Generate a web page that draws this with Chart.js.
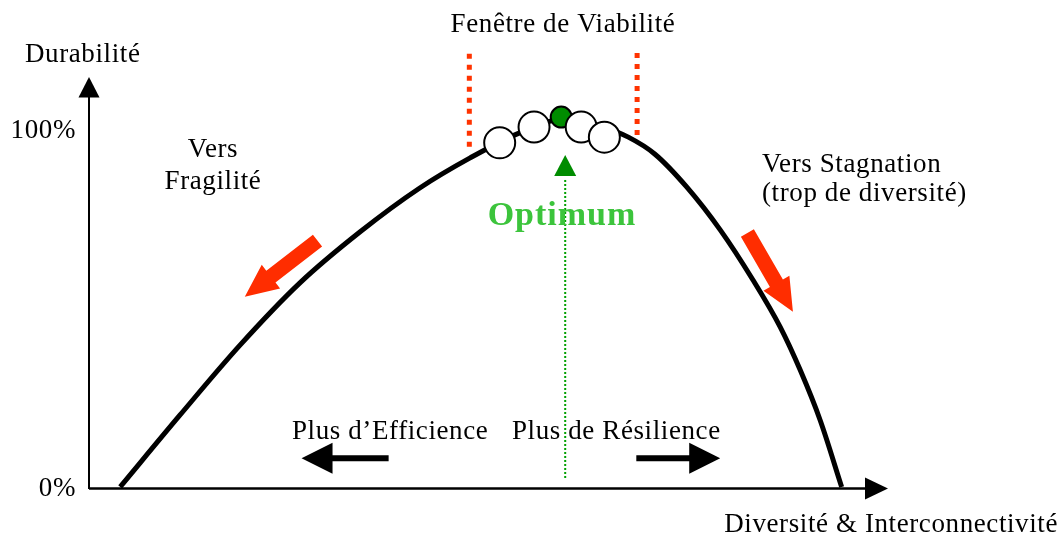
<!DOCTYPE html>
<html><head><meta charset="utf-8">
<script src="https://cdn.jsdelivr.net/npm/chart.js@4/dist/chart.umd.min.js"></script>
<style>html,body{margin:0;padding:0;background:#fff;}#wrap{width:1064px;height:537px;}</style>
</head><body><div id="wrap"><canvas id="c" width="1064" height="537"></canvas></div>
<script>
// Curve: durability (%) vs diversity & interconnectivity (% of axis length)
const curveX = [3.9, 11.4, 18.9, 26.4, 33.9, 41.4, 47.7, 53.9, 59.6, 64.0, 67.5, 70.8, 74.8, 79.0, 83.1, 86.5, 89.0, 91.5, 94.2];
const curveY = [0.3, 20.4, 39.9, 57.3, 71.5, 83.8, 92.2, 99.2, 103.1, 101.1, 98.0, 93.3, 84.1, 72.1, 58.1, 45.0, 33.0, 19.0, 0.3];
// Circles along the top (third one is the optimum)
const circleX = [51.4, 55.7, 59.1, 61.6, 64.5];
const circleY = [96.4, 100.8, 103.6, 100.8, 98.0];
const circleIsOptimum = [false, false, true, false, false];
// Viability window (red dotted lines)
const windowX = [47.6, 68.6];
const windowYLow = [95.3, 98.6];
const windowYHigh = 121.8;
// Optimum green dotted line
const optimumX = 59.6;
const optimumY = [2.8, 86.6];
const optimumArrowTip = 93.0;
// Tick labels
const tickValues = [0, 100];
const tickLabels = ['0%', '100%'];
// Red tendency arrows [tailX, tailY, tipX, tipY]
const redArrows = [[28.6, 69.1, 19.5, 53.4], [82.4, 71.2, 88.1, 49.2]];
// Black direction arrows [tailX, tipX, y]
const blackArrows = [[37.5, 26.6, 8.3], [68.5, 79.0, 8.3]];
const xMax = 100, yMax = 114.8;

const SERIF = '"Liberation Serif","Times New Roman",Times,serif';

function blockArrow(ctx, x1, y1, x2, y2, shaftW, headW, headL, color) {
  const dx = x2 - x1, dy = y2 - y1, L = Math.hypot(dx, dy);
  const ux = dx / L, uy = dy / L, nx = -uy, ny = ux;
  const bx = x2 - ux * headL, by = y2 - uy * headL;
  ctx.beginPath();
  ctx.moveTo(x1 + nx * shaftW / 2, y1 + ny * shaftW / 2);
  ctx.lineTo(bx + nx * shaftW / 2, by + ny * shaftW / 2);
  ctx.lineTo(bx + nx * headW / 2, by + ny * headW / 2);
  ctx.lineTo(x2, y2);
  ctx.lineTo(bx - nx * headW / 2, by - ny * headW / 2);
  ctx.lineTo(bx - nx * shaftW / 2, by - ny * shaftW / 2);
  ctx.lineTo(x1 - nx * shaftW / 2, y1 - ny * shaftW / 2);
  ctx.closePath();
  ctx.fillStyle = color;
  ctx.fill();
}

function text(ctx, s, x, y, font, color, align, spacing) {
  ctx.font = font;
  ctx.fillStyle = color || '#000';
  ctx.textAlign = align || 'left';
  ctx.textBaseline = 'alphabetic';
  try { ctx.letterSpacing = (spacing == null ? 0.6 : spacing) + 'px'; } catch (e) {}
  ctx.fillText(s, x, y);
  try { ctx.letterSpacing = '0px'; } catch (e) {}
}

const decor = {
  id: 'decor',
  beforeDatasetsDraw(chart) {
    const ctx = chart.ctx, xs = chart.scales.x, ys = chart.scales.y;
    const x0 = xs.getPixelForValue(0), y0 = ys.getPixelForValue(0);
    const xEnd = xs.getPixelForValue(xMax), yTop = ys.getPixelForValue(yMax);
    ctx.save();
    ctx.strokeStyle = '#000';
    ctx.lineWidth = 2;
    ctx.beginPath();
    ctx.moveTo(x0, y0 + 1); ctx.lineTo(x0, yTop + 18);
    ctx.stroke();
    ctx.lineWidth = 2.5;
    ctx.beginPath();
    ctx.moveTo(x0, y0 + 0.5); ctx.lineTo(xEnd - 20, y0 + 0.5);
    ctx.stroke();
    ctx.fillStyle = '#000';
    ctx.beginPath();
    ctx.moveTo(x0, yTop); ctx.lineTo(x0 - 10.5, yTop + 20.5); ctx.lineTo(x0 + 10.5, yTop + 20.5); ctx.closePath(); ctx.fill();
    ctx.beginPath();
    ctx.moveTo(xEnd, y0 + 0.5); ctx.lineTo(xEnd - 23, y0 - 10.5); ctx.lineTo(xEnd - 23, y0 + 11.5); ctx.closePath(); ctx.fill();
    tickValues.forEach((v, i) => {
      text(ctx, tickLabels[i], x0 - 13, ys.getPixelForValue(v) + 8, '27px ' + SERIF, '#000', 'right');
    });
    ctx.restore();
  },
  afterDatasetsDraw(chart) {
    const ctx = chart.ctx, xs = chart.scales.x, ys = chart.scales.y;
    ctx.save();
    redArrows.forEach(a => {
      blockArrow(ctx, xs.getPixelForValue(a[0]), ys.getPixelForValue(a[1]), xs.getPixelForValue(a[2]), ys.getPixelForValue(a[3]), 15, 30, 33, '#ff2d00');
    });
    blackArrows.forEach(a => {
      const y = ys.getPixelForValue(a[2]);
      blockArrow(ctx, xs.getPixelForValue(a[0]), y, xs.getPixelForValue(a[1]), y, 6, 31, 31, '#000');
    });
    const gx = xs.getPixelForValue(optimumX), gt = ys.getPixelForValue(optimumArrowTip), gb = ys.getPixelForValue(optimumY[1]) - 2;
    ctx.fillStyle = '#008c00';
    ctx.beginPath();
    ctx.moveTo(gx, gt); ctx.lineTo(gx - 11, gb); ctx.lineTo(gx + 11, gb); ctx.closePath(); ctx.fill();
    const F = '27px ' + SERIF;
    text(ctx, 'Durabilité', 25, 62, F);
    text(ctx, 'Fenêtre de Viabilité', 563, 32, F, '#000', 'center');
    text(ctx, 'Vers', 213, 157, F, '#000', 'center');
    text(ctx, 'Fragilité', 213, 189, F, '#000', 'center');
    text(ctx, 'Vers Stagnation', 762, 172, F);
    text(ctx, '(trop de diversité)', 762, 201, F);
    text(ctx, 'Optimum', 562, 225, 'bold 34px ' + SERIF, '#3cc43c', 'center', 1);
    text(ctx, 'Plus d\u2019Efficience', 292, 439, F);
    text(ctx, 'Plus de Résilience', 512, 439, F);
    text(ctx, 'Diversité & Interconnectivité', 1058, 532, F, '#000', 'right');
    ctx.restore();
  }
};

const pts = (xa, ya) => xa.map((x, i) => ({ x: x, y: ya[i] }));

new Chart(document.getElementById('c'), {
  type: 'scatter',
  data: {
    datasets: [
      { data: pts(curveX, curveY), showLine: true, borderColor: '#000', borderWidth: 5, pointRadius: 0, cubicInterpolationMode: 'monotone', borderCapStyle: 'butt', clip: false, order: 3 },
      { data: [{ x: windowX[0], y: windowYLow[0] }, { x: windowX[0], y: windowYHigh }], showLine: true, borderColor: '#ff3300', borderWidth: 5, borderDash: [5, 6], pointRadius: 0, clip: false, order: 4 },
      { data: [{ x: windowX[1], y: windowYLow[1] }, { x: windowX[1], y: windowYHigh }], showLine: true, borderColor: '#ff3300', borderWidth: 5, borderDash: [5, 6], pointRadius: 0, clip: false, order: 4 },
      { data: [{ x: optimumX, y: optimumY[0] }, { x: optimumX, y: optimumY[1] }], showLine: true, borderColor: '#00a000', borderWidth: 2, borderDash: [2, 2], pointRadius: 0, clip: false, order: 4 },
      { data: pts(circleX, circleY), showLine: false,
        pointRadius: circleIsOptimum.map(o => o ? 10.5 : 15.5),
        pointBackgroundColor: circleIsOptimum.map(o => o ? '#008c00' : '#ffffff'),
        pointBorderColor: '#000', pointBorderWidth: 2, clip: false, order: 1 }
    ]
  },
  options: {
    responsive: false,
    animation: false,
    devicePixelRatio: 1,
    layout: { padding: { left: 89, right: 176, top: 77, bottom: 49 } },
    scales: {
      x: { type: 'linear', min: 0, max: xMax, display: false },
      y: { type: 'linear', min: 0, max: yMax, display: false }
    },
    plugins: { legend: { display: false }, tooltip: { enabled: false } }
  },
  plugins: [decor]
});
</script>
</body></html>
